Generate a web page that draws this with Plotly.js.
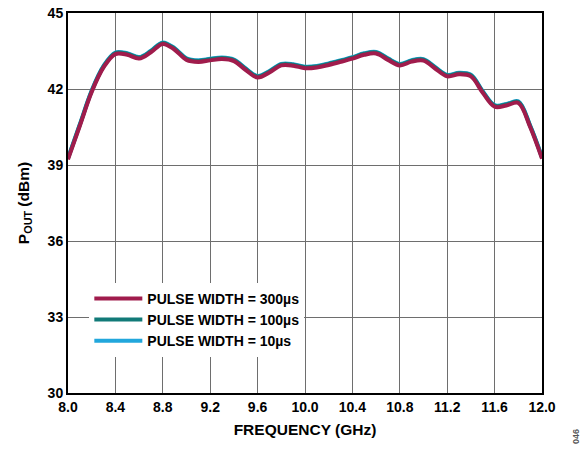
<!DOCTYPE html>
<html>
<head>
<meta charset="utf-8">
<script src="https://cdn.plot.ly/plotly-3.0.1.min.js"></script>
<style>html,body{margin:0;padding:0;background:#fff;}#chart{width:587px;height:451px;}</style>
</head>
<body>
<div id="chart"></div>
<script>
const freq = [8.00,8.10,8.20,8.30,8.40,8.50,8.60,8.70,8.80,8.90,9.00,9.10,9.20,9.30,9.40,9.50,9.60,9.70,9.80,9.90,10.00,10.10,10.20,10.30,10.40,10.50,10.60,10.70,10.80,10.90,11.00,11.10,11.20,11.30,11.40,11.50,11.60,11.70,11.80,11.90,12.00];
const pw300 = [39.22,40.55,41.88,42.85,43.38,43.35,43.20,43.45,43.78,43.55,43.15,43.07,43.13,43.18,43.10,42.75,42.45,42.65,42.93,42.92,42.82,42.85,42.95,43.07,43.20,43.35,43.40,43.15,42.93,43.08,43.12,42.80,42.50,42.58,42.50,41.85,41.30,41.35,41.45,40.50,39.25];
const pw100 = [39.26,40.59,41.92,42.89,43.42,43.39,43.24,43.49,43.82,43.59,43.19,43.11,43.17,43.22,43.14,42.79,42.49,42.69,42.97,42.96,42.86,42.89,42.99,43.11,43.24,43.39,43.44,43.19,42.97,43.12,43.16,42.84,42.54,42.62,42.54,41.89,41.34,41.39,41.49,40.54,39.29];
const pw10 = [39.28,40.61,41.94,42.91,43.44,43.41,43.26,43.51,43.84,43.61,43.21,43.13,43.19,43.24,43.16,42.81,42.51,42.71,42.99,42.98,42.88,42.91,43.01,43.13,43.26,43.41,43.46,43.21,42.99,43.14,43.18,42.86,42.56,42.64,42.56,41.91,41.36,41.41,41.51,40.56,39.31];
const names = ["PULSE WIDTH = 300µs","PULSE WIDTH = 100µs","PULSE WIDTH = 10µs"];
const colors = ["#A01C4C","#117A78","#22A7DC"];
const xTicks = [8.0,8.4,8.8,9.2,9.6,10.0,10.4,10.8,11.2,11.6,12.0];
const xTickText = ["8.0","8.4","8.8","9.2","9.6","10.0","10.4","10.8","11.2","11.6","12.0"];
const yTicks = [30,33,36,39,42,45];

const series = [pw300, pw100, pw10];
const traces = [];
[2,1,0].forEach(i => {
  traces.push({
    x: freq, y: series[i], type: 'scatter', mode: 'lines',
    name: names[i],
    line: {color: colors[i], width: 4, shape: 'spline', smoothing: 1.0},
    legendrank: i + 1
  });
});

const font = {family: 'Liberation Sans, Arial, sans-serif', size: 14, color: '#000', weight: 'bold'};
const titleFont = {family: 'Liberation Sans, Arial, sans-serif', size: 15.5, color: '#000', weight: 'bold'};
const layout = {
  width: 587, height: 451,
  margin: {l: 68, r: 45, t: 13, b: 58},
  paper_bgcolor: '#fff', plot_bgcolor: '#fff',
  font: font,
  showlegend: true,
  legend: {
    x: 0.045, y: 0.29, xanchor: 'left', yanchor: 'top',
    bgcolor: '#fff', font: font, traceorder: 'normal',
    itemwidth: 48
  },
  xaxis: {
    range: [8.0, 12.0], tickvals: xTicks, ticktext: xTickText,
    showgrid: true, gridcolor: '#6e6e6e', gridwidth: 1,
    showline: true, linecolor: '#000', linewidth: 2, mirror: true,
    ticks: '', tickfont: font, zeroline: false,
    title: {text: 'FREQUENCY (GHz)', font: titleFont, standoff: 10}
  },
  yaxis: {
    range: [30, 45], tickvals: yTicks,
    showgrid: true, gridcolor: '#6e6e6e', gridwidth: 1,
    showline: true, linecolor: '#000', linewidth: 2, mirror: true,
    ticks: '', tickfont: font, zeroline: false,
    title: {text: 'P<sub>OUT</sub> (dBm)', font: titleFont, standoff: 14}
  },
  annotations: [{
    text: '046', xref: 'paper', yref: 'paper', x: 1.085, y: -0.14,
    showarrow: false, textangle: -90,
    font: {family: 'Liberation Sans, Arial, sans-serif', size: 9, color: '#555'}
  }]
};
Plotly.newPlot('chart', traces, layout, {displayModeBar: false, staticPlot: true});
</script>
</body>
</html>
